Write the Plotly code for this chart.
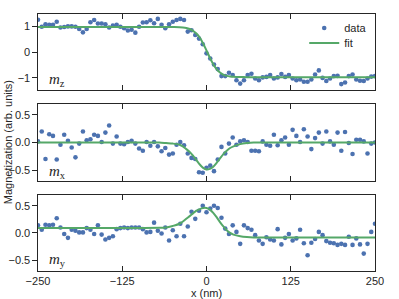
import plotly.graph_objects as go
from plotly.subplots import make_subplots

# ---------------- data ----------------
x_nm = [-250.0, -244.44, -238.89, -233.33, -227.78, -222.22, -216.67, -211.11, -205.56, -200.0,
        -194.44, -188.89, -183.33, -177.78, -172.22, -166.67, -161.11, -155.56, -150.0, -144.44,
        -138.89, -133.33, -127.78, -122.22, -116.67, -111.11, -105.56, -100.0, -94.44, -88.89,
        -83.33, -77.78, -72.22, -66.67, -61.11, -55.56, -50.0, -44.44, -38.89, -33.33,
        -27.78, -22.22, -16.67, -11.11, -5.56, 0.0, 5.56, 11.11, 16.67, 22.22,
        27.78, 33.33, 38.89, 44.44, 50.0, 55.56, 61.11, 66.67, 72.22, 77.78,
        83.33, 88.89, 94.44, 100.0, 105.56, 111.11, 116.67, 122.22, 127.78, 133.33,
        138.89, 144.44, 150.0, 155.56, 161.11, 166.67, 172.22, 177.78, 183.33, 188.89,
        194.44, 200.0, 205.56, 211.11, 216.67, 222.22, 227.78, 233.33, 238.89, 244.44,
        250.0]

mz_data = [1.25, 0.98, 1.07, 1.05, 1.05, 1.17, 0.95, 0.97, 0.99, 0.99,
           0.98, 0.89, 0.76, 0.89, 1.15, 1.24, 1.10, 1.10, 1.07, 0.95,
           1.02, 1.05, 0.98, 0.92, 0.83, 0.86, 0.75, 0.98, 1.14, 1.15,
           1.23, 1.11, 1.28, 1.05, 0.92, 1.07, 1.17, 1.24, 1.28, 1.24,
           0.79, 0.84, 0.66, 0.52, 0.30, -0.05, -0.25, -0.48, -0.66, -0.93,
           -0.93, -0.80, -0.89, -1.09, -1.22, -1.09, -0.89, -0.84, -1.02, -1.09,
           -0.98, -0.96, -0.89, -1.02, -0.98, -0.85, -0.96, -0.89, -1.02, -1.09,
           -1.06, -1.15, -1.15, -1.06, -0.87, -0.71, -1.00, -1.12, -1.02, -0.93,
           -0.92, -1.24, -1.18, -0.93, -0.87, -1.06, -1.11, -1.12, -1.02, -0.95,
           -0.93]

mx_data = [0.02, 0.20, -0.30, 0.15, 0.12, -0.31, -0.04, 0.14, 0.03, -0.09,
           -0.27, -0.02, 0.20, 0.04, 0.06, 0.14, 0.12, 0.01, 0.18, 0.31,
           -0.02, 0.11, -0.02, -0.03, 0.01, 0.03, -0.02, -0.11, -0.15, 0.01,
           -0.06, 0.01, -0.07, -0.16, -0.10, -0.22, -0.20, -0.04, 0.01, -0.05,
           -0.20, -0.28, -0.30, -0.54, -0.55, -0.46, -0.42, -0.52, -0.31, -0.08,
           -0.20, -0.02, 0.09, -0.04, 0.02, 0.04, 0.01, -0.15, -0.15, -0.16,
           0.02, -0.04, -0.06, 0.14, -0.05, 0.04, 0.09, -0.04, 0.23, 0.12,
           0.01, 0.24, 0.11, -0.12, 0.08, 0.18, -0.02, 0.20, 0.02, -0.04,
           0.18, -0.15, 0.19, -0.01, -0.21, 0.05, 0.05, 0.02, -0.20, -0.02,
           0.00]

my_data = [0.14, 0.06, 0.15, 0.14, 0.15, 0.27, 0.10, -0.02, -0.09, 0.06,
           0.04, 0.01, 0.01, 0.09, 0.06, -0.02, 0.14, -0.03, -0.12, -0.09,
           -0.06, 0.07, 0.09, 0.10, 0.09, 0.10, 0.10, 0.10, 0.07, 0.01,
           0.02, 0.19, 0.04, -0.01, 0.10, -0.14, 0.05, -0.06, 0.17, -0.06,
           0.12, 0.39, 0.26, 0.41, 0.50, 0.38, 0.45, 0.50, 0.46, 0.28,
           0.08, -0.02, 0.14, 0.02, -0.20, 0.14, 0.09, 0.06, -0.04, -0.14,
           -0.20, -0.08, -0.12, -0.14, 0.07, -0.21, -0.09, -0.02, -0.14, -0.10,
           0.06, -0.19, -0.41, -0.18, -0.11, 0.02, -0.04, -0.15, -0.18, -0.19,
           -0.22, -0.20, -0.22, -0.07, -0.22, -0.10, -0.21, -0.38, -0.20, 0.02,
           0.17]

fit_x = [-250, -100, -70, -60, -50, -40, -35, -30, -25, -20, -15, -10, -5, 0,
         5, 10, 15, 20, 25, 30, 35, 40, 50, 60, 70, 100, 250]
mz_fit = [0.97, 0.97, 0.97, 0.97, 0.965, 0.96, 0.95, 0.93, 0.89, 0.82, 0.72, 0.56, 0.33, 0.06,
          -0.22, -0.47, -0.66, -0.79, -0.87, -0.92, -0.945, -0.955, -0.965, -0.97, -0.97, -0.97, -0.97]
mx_fit = [0.0, 0.0, 0.0, -0.01, -0.02, -0.04, -0.07, -0.12, -0.17, -0.24, -0.32, -0.40, -0.46, -0.49,
          -0.48, -0.44, -0.37, -0.29, -0.21, -0.15, -0.10, -0.07, -0.03, -0.01, 0.0, 0.0, 0.0]
my_fit = [0.09, 0.09, 0.095, 0.10, 0.13, 0.17, 0.21, 0.26, 0.31, 0.36, 0.41, 0.44, 0.46, 0.46,
          0.43, 0.37, 0.29, 0.20, 0.12, 0.05, 0.0, -0.03, -0.06, -0.075, -0.082, -0.085, -0.085]

x_ticks = [-250, -125, 0, 125, 250]
x_tick_labels = ["\u2212250", "\u2212125", "0", "125", "250"]
mz_ticks = [-1, 0, 1]
mz_tick_labels = ["\u22121", "0", "1"]
mxy_ticks = [-0.5, 0.0, 0.5]
mxy_tick_labels = ["\u22120.5", "0.0", "0.5"]
panel_labels = ["<i>m</i><sub>z</sub>", "<i>m</i><sub>x</sub>", "<i>m</i><sub>y</sub>"]

# ---------------- style ----------------
BLUE = "#4C72B0"
GREEN = "#55A868"
INK = "#262626"
FONT = "Liberation Sans, Arial, sans-serif"

fig = make_subplots(rows=3, cols=1, shared_xaxes=True, vertical_spacing=0.05)

series = [(mz_data, mz_fit), (mx_data, mx_fit), (my_data, my_fit)]
for r, (d, f) in enumerate(series, start=1):
    fig.add_trace(go.Scatter(x=x_nm, y=d, mode="markers", name="data",
                             marker=dict(color=BLUE, size=4.6, line=dict(width=0)),
                             showlegend=(r == 1), legend="legend"), row=r, col=1)
    fig.add_trace(go.Scatter(x=fit_x, y=f, mode="lines", name="fit",
                             line=dict(color=GREEN, width=2, shape="spline", smoothing=0.8),
                             showlegend=(r == 1), legend="legend2"), row=r, col=1)

domains = [[0.704, 1.0], [0.35, 0.65], [0.0, 0.296]]
ranges = [[-1.47, 1.47], [-0.7, 0.7], [-0.7, 0.7]]
ticks = [(mz_ticks, mz_tick_labels), (mxy_ticks, mxy_tick_labels), (mxy_ticks, mxy_tick_labels)]

for i in range(3):
    xa = "xaxis" if i == 0 else f"xaxis{i+1}"
    ya = "yaxis" if i == 0 else f"yaxis{i+1}"
    fig.layout[xa].update(range=[-250, 250], domain=[0, 1], showgrid=False, zeroline=False,
                          showline=True, mirror="ticks", linecolor=INK, linewidth=1.25,
                          ticks="inside", ticklen=4.5, tickwidth=1, tickcolor=INK,
                          tickvals=x_ticks, ticktext=x_tick_labels,
                          showticklabels=(i == 2),
                          tickfont=dict(family=FONT, size=11, color=INK))
    fig.layout[ya].update(range=ranges[i], domain=domains[i], showgrid=False, zeroline=False,
                          showline=True, mirror=True, linecolor=INK, linewidth=1.25,
                          ticks="outside", ticklen=4.5, tickwidth=1, tickcolor=INK,
                          tickvals=ticks[i][0], ticktext=ticks[i][1],
                          tickfont=dict(family=FONT, size=11, color=INK))
    # right-hand inside ticks
    fig.layout[f"yaxis{i+4}"] = dict(overlaying="y" if i == 0 else f"y{i+1}",
                                     anchor="x" if i == 0 else f"x{i+1}", side="right",
                                     range=ranges[i], tickvals=ticks[i][0],
                                     showticklabels=False, ticks="inside", ticklen=4.5,
                                     tickwidth=1, tickcolor=INK, showgrid=False,
                                     zeroline=False, showline=False)

fig.layout.xaxis3.title = dict(text="x (nm)", font=dict(family=FONT, size=11, color=INK), standoff=0)

label_y = [0.743, 0.385, 0.043]
for i, lab in enumerate(panel_labels):
    fig.add_annotation(text=lab, x=0.028, y=label_y[i], xref="paper", yref="paper",
                       xanchor="left", yanchor="middle", showarrow=False,
                       font=dict(family="Liberation Serif, DejaVu Serif, serif", size=15, color=INK))

fig.add_annotation(text="Magnetization (arb. units)", x=-0.09, y=0.5, xref="paper", yref="paper",
                   textangle=-90, showarrow=False, xanchor="center", yanchor="middle",
                   font=dict(family=FONT, size=11, color=INK))

legend_common = dict(xanchor="left", yanchor="middle",
                     font=dict(family=FONT, size=11, color=INK),
                     bgcolor="rgba(0,0,0,0)", itemwidth=30)
fig.update_layout(
    width=399, height=299,
    margin=dict(l=38, r=24, t=14, b=28, autoexpand=False),
    paper_bgcolor="white", plot_bgcolor="white",
    legend=dict(x=0.79, y=0.9455, **legend_common),
    legend2=dict(x=0.79, y=0.887, **legend_common),
    showlegend=True,
)

fig.write_html("out.html", config={"displayModeBar": False},
               post_script="document.body.style.margin='0';document.body.style.padding='0';")
